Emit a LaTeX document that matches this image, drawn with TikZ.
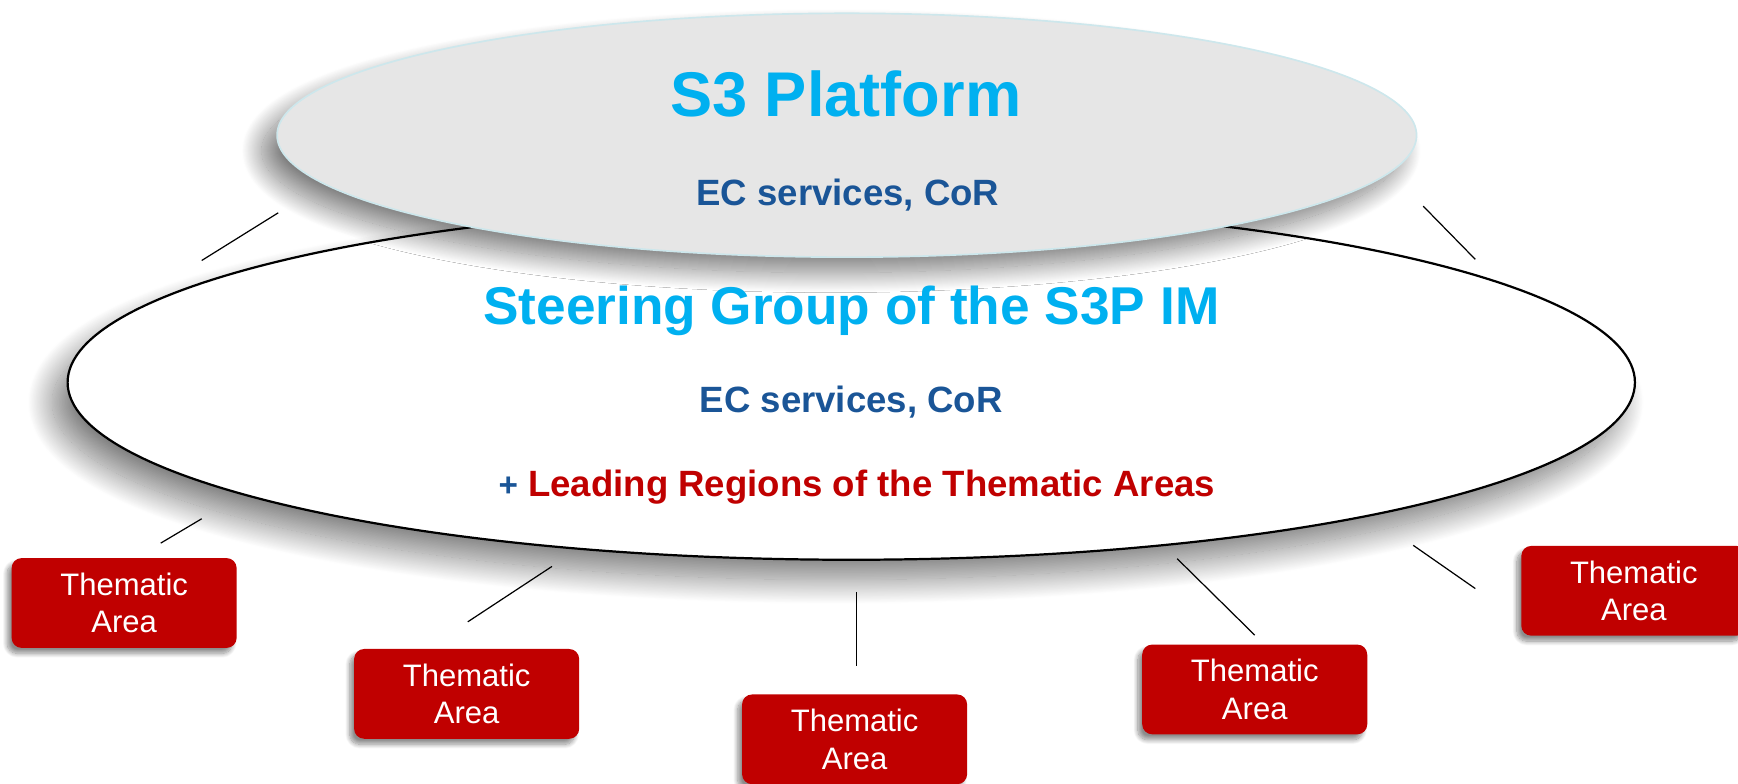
\documentclass[tikz,border=0pt]{standalone}
\usepackage{fontspec}
\setmainfont{Liberation Sans}
\usetikzlibrary{positioning, shapes.geometric, shadows.blur}

\definecolor{titlecyan}{HTML}{00B0F0}
\definecolor{ecblue}{HTML}{1A5597}
\definecolor{areared}{HTML}{C00000}
\definecolor{platformgray}{HTML}{E6E6E6}
\definecolor{platformrim}{HTML}{CDE7EC}

\begin{document}
\begin{tikzpicture}[
        x=1pt, y=-1pt,
        link/.style={draw=black, line width=1.1pt},
        group/.style={ellipse, draw=black, line width=2pt, fill=white, inner sep=0pt,
            minimum width=1414pt, minimum height=320pt,
            blur shadow={shadow xshift=-14pt, shadow yshift=-18pt, shadow blur radius=22pt,
                shadow blur steps=40, shadow opacity=50}},
        platform/.style={ellipse, draw=platformrim, line width=1.5pt, fill=platformgray, inner sep=0pt,
            minimum width=1028pt, minimum height=220pt,
            blur shadow={shadow xshift=-14pt, shadow yshift=-14pt, shadow blur radius=18pt,
                shadow blur steps=40, shadow opacity=50}},
        area/.style={rectangle, rounded corners=9pt, fill=areared, text=white, align=center,
            minimum width=203pt, minimum height=81pt, font=\fontsize{28}{34}\selectfont,
            blur shadow={shadow xshift=-4pt, shadow yshift=-5pt, shadow blur radius=4pt,
                shadow blur steps=12, shadow opacity=45}},
        title/.style={anchor=base, text=titlecyan, font=\bfseries\fontsize{48}{48}\selectfont},
        members/.style={anchor=base, text=ecblue, font=\bfseries\fontsize{33}{33}\selectfont},
    ]
    \useasboundingbox (0,0) rectangle (1568,707);

        % Draw the steering group and the platform on top of it
        \node[group] (SG) at (768,345) {};
        \node[platform] (S3P) at (764,122) {};

        % Texts of the platform
        \node[title, font=\bfseries\fontsize{57}{57}\selectfont] (S3P-title) at (763,105) {S3 Platform};
        \node[members] (S3P-ec) at (765,185) {EC services, CoR};

        % Texts of the steering group
        \node[title] (SG-title) at (768,293) {Steering Group of the S3P IM};
        \node[members] (SG-ec) at (768,372) {EC services, CoR};
        \node[members] (SG-lead) at (773,448) {{\fontsize{30}{30}\selectfont+} \textcolor{areared}{Leading Regions of the Thematic Areas}};

        % Draw the thematic areas
        \foreach \name / \x / \y in {1/112/544, 2/421/626, 3/771/667, 4/1132/622, 5/1474/533}
            \node[area] (TA-\name) at (\x,\y) {Thematic\\Area};

        % Short strokes round the ellipses
        \foreach \name / \xa / \ya / \xb / \yb in {1/182/235/251/192, 2/1284/186/1331/234,
                3/145/490/182/468, 4/422/561/498/511, 5/773/534/773/601,
                6/1062/504/1132/573, 7/1275/492/1331/531} {
            \coordinate (L\name-a) at (\xa,\ya);
            \coordinate (L\name-b) at (\xb,\yb);
            \draw[link] (L\name-a) -- (L\name-b);
        }
    \end{tikzpicture}
\end{document}
